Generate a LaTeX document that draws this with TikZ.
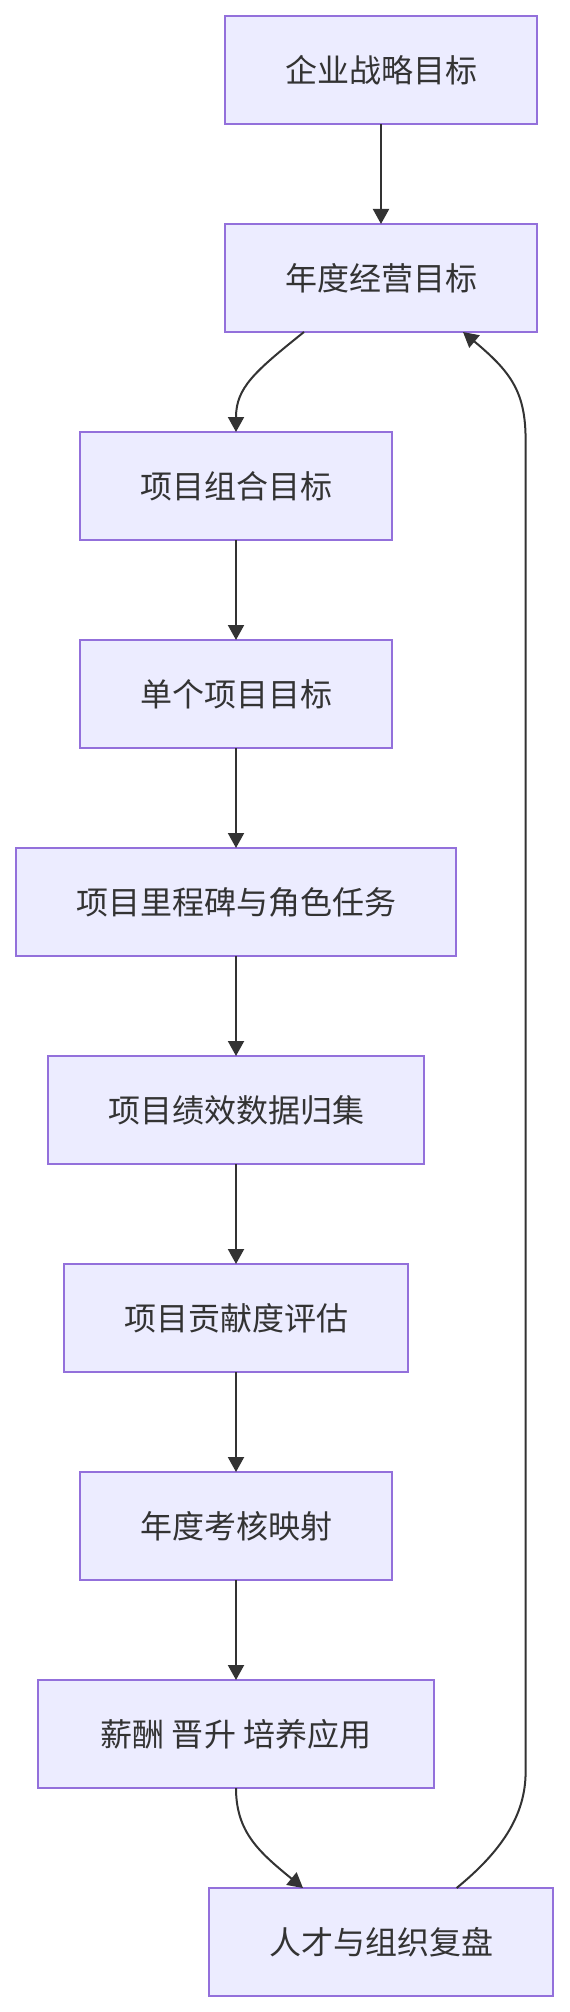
\documentclass[tikz,border=0pt]{standalone}
\usepackage{fontspec}
\usepackage{tikz}
\usetikzlibrary{arrows.meta, positioning}
\newfontfamily\cjk{Noto Sans CJK SC}
\definecolor{boxfill}{HTML}{ECECFF}
\definecolor{boxline}{HTML}{9370DB}
\definecolor{ink}{HTML}{333333}

\begin{document}
\begin{tikzpicture}[
    stepbox/.style={draw=boxline, fill=boxfill, line width=1pt, text=ink,
        font=\cjk\fontsize{16pt}{20pt}\selectfont,
        minimum height=54pt, inner xsep=30pt, inner ysep=0pt, outer sep=0pt},
    flow/.style={draw=ink, line width=1pt, -{Triangle[length=7.5pt,width=8pt]}},
    node distance=50pt]
    \useasboundingbox (0,0) rectangle (284.5pt,-1006pt);
    % main chain
    \node[stepbox] (strategy) at (190.5pt,-35pt) {企业战略目标};
    \node[stepbox, below=of strategy] (yearly) {年度经营目标};
    \node[stepbox, below=of yearly, xshift=-72.5pt] (portfolio) {项目组合目标};
    \node[stepbox, below=of portfolio] (single) {单个项目目标};
    \node[stepbox, below=of single] (milestone) {项目里程碑与角色任务};
    \node[stepbox, below=of milestone] (perfdata) {项目绩效数据归集};
    \node[stepbox, below=of perfdata] (contrib) {项目贡献度评估};
    \node[stepbox, below=of contrib] (appraisal) {年度考核映射};
    \node[stepbox, below=of appraisal, minimum width=198pt] (reward) {薪酬 晋升 培养应用};
    \node[stepbox, below=of reward, xshift=72.5pt] (review) {人才与组织复盘};
    % feedback route
    \coordinate (backlow) at (262.8pt,-886pt);
    \coordinate (backhigh) at (262.8pt,-220pt);

    \draw[flow] (strategy) -- (yearly);
    \draw[flow] ([xshift=-38.5pt]yearly.south) .. controls +(-25pt,-20pt) and +(0,22pt) .. (portfolio.north);
    \draw[flow] (portfolio) -- (single);
    \draw[flow] (single) -- (milestone);
    \draw[flow] (milestone) -- (perfdata);
    \draw[flow] (perfdata) -- (contrib);
    \draw[flow] (contrib) -- (appraisal);
    \draw[flow] (appraisal) -- (reward);
    \draw[flow] (reward.south) .. controls +(0,-22pt) and +(-22pt,18pt) .. ([xshift=-39pt]review.north);
    \draw[flow] ([xshift=37.8pt]review.north) .. controls +(22pt,18pt) and +(0,-22pt) .. (backlow)
        -- (backhigh) .. controls +(0,24pt) and +(24pt,-20pt) .. ([xshift=41pt]yearly.south);
\end{tikzpicture}
\end{document}
